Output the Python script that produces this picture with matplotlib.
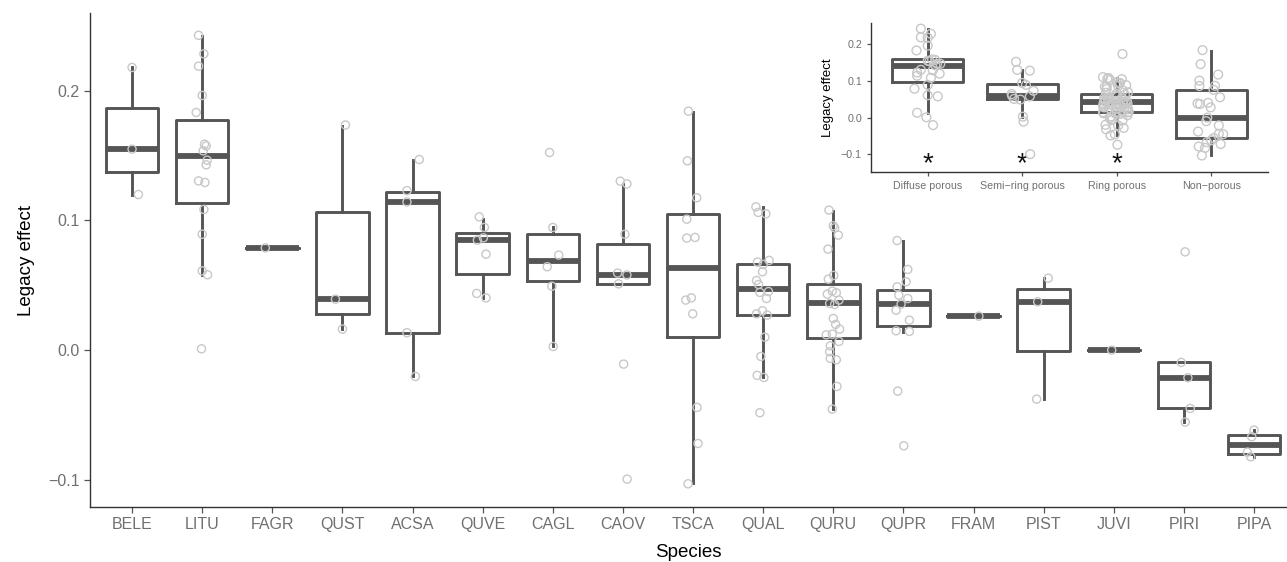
import matplotlib
matplotlib.use("Agg")
import matplotlib.pyplot as plt

plt.rcParams["font.family"] = ["Liberation Sans", "DejaVu Sans"]

species = ["BELE", "LITU", "FAGR", "QUST", "ACSA", "QUVE", "CAGL", "CAOV", "TSCA",
           "QUAL", "QURU", "QUPR", "FRAM", "PIST", "JUVI", "PIRI", "PIPA"]

# box statistics
whislo = [0.120, 0.0581, 0.0789, 0.0162, -0.0203, 0.0403, 0.0028, 0.0509, -0.1028,
          -0.0208, -0.0455, 0.0141, 0.0262, -0.0375, 0.0, -0.0555, -0.0823]
q1 = [0.137, 0.1136, 0.0789, 0.028, 0.0134, 0.0589, 0.0533, 0.0509, 0.0098,
      0.027, 0.0093, 0.0188, 0.0262, -0.0003, 0.0, -0.045, -0.080]
med = [0.155, 0.1498, 0.0789, 0.0393, 0.1143, 0.0848, 0.0688, 0.058, 0.0635,
       0.047, 0.0365, 0.0352, 0.0262, 0.0373, 0.0, -0.0213, -0.073]
q3 = [0.1868, 0.1773, 0.0789, 0.1069, 0.1216, 0.0906, 0.0893, 0.082, 0.1051,
      0.0661, 0.0507, 0.0463, 0.0262, 0.0468, 0.0, -0.0095, -0.0653]
whishi = [0.218, 0.2421, 0.0789, 0.1732, 0.147, 0.1015, 0.0946, 0.1285, 0.1838,
          0.110, 0.1074, 0.084, 0.0262, 0.0553, 0.0, -0.0095, -0.0617]

# individual trees per species (legacy effect) and the jitter seen in the plot
pts_y = [
    [0.218, 0.155, 0.120],
    [0.2428, 0.2285, 0.219, 0.1964, 0.1833, 0.1588, 0.1575, 0.1537, 0.1465, 0.1429,
     0.1305, 0.1293, 0.1085, 0.0894, 0.0611, 0.0581, 0.001],
    [0.0789],
    [0.1736, 0.0393, 0.0162],
    [0.147, 0.123, 0.1143, 0.0134, -0.0203],
    [0.1028, 0.0946, 0.0866, 0.0848, 0.074, 0.0437, 0.0403],
    [0.1524, 0.0946, 0.0733, 0.0643, 0.0493, 0.0028],
    [0.1303, 0.1282, 0.0894, 0.0594, 0.058, 0.0511, -0.0108, -0.0995],
    [0.1843, 0.146, 0.1175, 0.101, 0.0864, 0.0869, 0.0386, 0.0403, 0.028, -0.0442,
     -0.072, -0.1031],
    [0.1105, 0.1062, 0.1051, 0.0692, 0.0679, 0.0661, 0.0604, 0.0537, 0.0506, 0.0452,
     0.0445, 0.0398, 0.0303, 0.028, 0.027, 0.010, -0.0049, -0.0195, -0.0211, -0.0483],
    [0.108, 0.0959, 0.0943, 0.0887, 0.0779, 0.0576, 0.0547, 0.0455, 0.0442, 0.0432,
     0.0386, 0.036, 0.0352, 0.0244, 0.0198, 0.0162, 0.0118, 0.0123, 0.0067, 0.0033,
     -0.0013, -0.0064, -0.0075, -0.028, -0.0455],
    [0.0845, 0.0622, 0.0527, 0.0488, 0.0424, 0.0398, 0.0355, 0.0308, 0.0231, 0.0149,
     0.0144, -0.0316, -0.0738],
    [0.0262],
    [0.0555, 0.0373, -0.0378],
    [0.0],
    [0.0758, -0.0095, -0.0213, -0.045, -0.0555],
    [-0.0617, -0.0668, -0.0787, -0.0823],
]
pts_dx = [
    [0.0, 0.0, 0.09],
    [-0.052, 0.024, -0.052, 0.0, -0.085, 0.033, 0.057, 0.014, 0.071, 0.057,
     -0.052, 0.038, 0.024, 0.0, 0.0, 0.076, -0.01],
    [-0.1],
    [0.043, -0.1, 0.0],
    [0.095, -0.08, -0.08, -0.08, 0.04],
    [-0.05, 0.024, 0.01, -0.076, 0.047, -0.085, 0.047],
    [-0.047, 0.0, 0.085, -0.08, -0.014, 0.005],
    [-0.038, 0.057, 0.028, -0.076, 0.057, -0.062, 0.01, 0.06],
    [-0.066, -0.081, 0.052, -0.09, -0.09, 0.028, -0.104, -0.024, -0.005, 0.057,
     0.071, -0.071],
    [-0.104, -0.071, 0.038, 0.085, -0.081, 0.0, -0.01, -0.095, -0.066, 0.076,
     -0.047, 0.047, -0.01, -0.095, 0.057, 0.024, -0.033, -0.085, 0.01, -0.047],
    [-0.062, 0.0, 0.019, 0.071, -0.076, 0.005, -0.071, -0.014, 0.043, -0.085,
     0.081, -0.052, 0.019, 0.0, 0.033, 0.09, -0.1, -0.014, 0.081, -0.043,
     -0.052, -0.043, 0.043, 0.052, -0.014],
    [-0.09, 0.062, 0.038, -0.09, -0.066, 0.062, -0.033, -0.104, 0.085, -0.104,
     0.085, -0.081, 0.005],
    [0.076],
    [0.066, -0.085, -0.1],
    [-0.03],
    [0.017, -0.038, 0.057, 0.09, 0.019],
    [0.0, -0.033, -0.095, -0.047],
]

# wood anatomy groups for the inset
groups = ["Diffuse porous", "Semi-ring porous", "Ring porous", "Non-porous"]
group_members = [["BELE", "LITU", "FAGR", "ACSA"],
                 ["CAGL", "CAOV"],
                 ["QUST", "QUVE", "QUAL", "QURU", "QUPR", "FRAM"],
                 ["TSCA", "PIST", "JUVI", "PIRI", "PIPA"]]
g_whislo = [0.0134, 0.003, -0.047, -0.1016]
g_q1 = [0.0973, 0.050, 0.0155, -0.0545]
g_med = [0.141, 0.058, 0.042, 0.0]
g_q3 = [0.1597, 0.0918, 0.0637, 0.0755]
g_whishi = [0.241, 0.130, 0.107, 0.1826]
g_signif = [True, True, True, False]

BOX = "#555555"
PT = "#c8c8c8"
TXT = "#707070"


def stats_list(lo, a, m, b, hi):
    return [dict(whislo=w0, q1=x1, med=x2, q3=x3, whishi=w1, fliers=[])
            for w0, x1, x2, x3, w1 in zip(lo, a, m, b, hi)]


def draw_boxes(ax, stats, lw):
    ax.bxp(stats, positions=range(len(stats)), widths=0.75, showfliers=False,
           showcaps=False, patch_artist=False,
           boxprops=dict(color=BOX, linewidth=lw),
           whiskerprops=dict(color=BOX, linewidth=lw),
           medianprops=dict(color=BOX, linewidth=lw * 2.0, solid_capstyle="butt"))


def style_axes(ax, tick_size, tick_len):
    for s in ["top", "right"]:
        ax.spines[s].set_visible(False)
    for s in ["left", "bottom"]:
        ax.spines[s].set_color("#333333")
        ax.spines[s].set_linewidth(1.0)
    ax.tick_params(colors="#555555", labelcolor=TXT, labelsize=tick_size,
                   length=tick_len, width=0.9)


fig = plt.figure(figsize=(12.87, 5.62), dpi=100)

# --- main panel: species ---
ax = fig.add_axes([90 / 1287, 55 / 562, 1197 / 1287, 494 / 562])
draw_boxes(ax, stats_list(whislo, q1, med, q3, whishi), 2.1)
for i, (ys, dxs) in enumerate(zip(pts_y, pts_dx)):
    ax.scatter([i + d for d in dxs], ys, s=34, facecolors="none", edgecolors=PT,
               linewidths=1.0, zorder=4)
ax.set_xlim(-0.6, 16.47)
ax.set_ylim(-0.121, 0.260)
ax.set_xticks(range(len(species)))
ax.set_xticklabels(species)
ax.set_yticks([-0.1, 0.0, 0.1, 0.2])
ax.set_yticklabels(["\u22120.1", "0.0", "0.1", "0.2"])
style_axes(ax, 11.5, 4)
ax.set_xlabel("Species", fontsize=13.5, labelpad=8)
ax.set_ylabel("Legacy effect", fontsize=13.5, labelpad=9)

# --- inset: wood anatomy ---
ins = fig.add_axes([871 / 1287, 389.7 / 562, 397 / 1287, 149.6 / 562])
ins.set_facecolor("white")
draw_boxes(ins, stats_list(g_whislo, g_q1, g_med, g_q3, g_whishi), 2.1)
for g, members in enumerate(group_members):
    xs, ys = [], []
    for sp in members:
        k = species.index(sp)
        xs += [g + 1.4 * d for d in pts_dx[k]]
        ys += pts_y[k]
    ins.scatter(xs, ys, s=40, facecolors="none", edgecolors=PT, linewidths=1.0, zorder=4)
    if g_signif[g]:
        ins.text(g, -0.127, "*", ha="center", va="center", fontsize=20, color="#111111")
ins.set_xlim(-0.6, 3.6)
ins.set_ylim(-0.149, 0.259)
ins.set_xticks(range(len(groups)))
ins.set_xticklabels([g.replace("-", "\u2212") for g in groups])
ins.set_yticks([-0.1, 0.0, 0.1, 0.2])
ins.set_yticklabels(["\u22120.1", "0.0", "0.1", "0.2"])
style_axes(ins, 7.7, 3)
ins.set_ylabel("Legacy effect", fontsize=9.5, labelpad=5)

fig.savefig("out.png", dpi=100, facecolor="white")
